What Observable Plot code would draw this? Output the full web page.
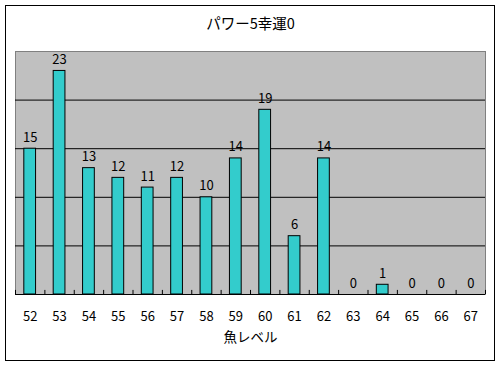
<!DOCTYPE html>
<html>
<head>
<meta charset="utf-8">
<script src="https://cdn.jsdelivr.net/npm/d3@7"></script>
<script src="https://cdn.jsdelivr.net/npm/@observablehq/plot@0.6"></script>
<style>
  html, body { margin: 0; padding: 0; background: #fff; }
  #wrap { position: relative; width: 501px; height: 365px; }
  #border { position: absolute; left: 5px; top: 5px; width: 488px; height: 354px; border: 1px solid #000; pointer-events: none; }
  #chart { position: absolute; left: 0; top: 0; }
</style>
</head>
<body>
<div id="wrap"><div id="chart"></div><div id="border"></div></div>
<script>
const title = "パワー5幸運0";
const xLabel = "魚レベル";
const levels = ["52","53","54","55","56","57","58","59","60","61","62","63","64","65","66","67"];
const counts = [15, 23, 13, 12, 11, 12, 10, 14, 19, 6, 14, 0, 1, 0, 0, 0];
const gridValues = [5, 10, 15, 20];
const yMax = 25;

const data = levels.map((l, i) => ({level: l, count: counts[i]}));
const font = "'Noto Sans CJK JP', 'Liberation Sans', sans-serif";

const W = 501, H = 365;
const mL = 15, mR = 16, mT = 51, mB = 71;
const step = (W - mL - mR) / levels.length;

const chart = Plot.plot({
  width: W,
  height: H,
  marginLeft: mL,
  marginRight: mR,
  marginTop: mT,
  marginBottom: mB,
  style: {fontFamily: font, fontSize: "13px", color: "#000", background: "transparent"},
  x: {domain: levels, paddingInner: 0.6, paddingOuter: 0.3, round: false},
  y: {domain: [0, yMax], axis: null},
  marks: [
    Plot.frame({fill: "#c0c0c0", stroke: "#808080"}),
    Plot.ruleY(gridValues, {stroke: "#000", strokeWidth: 1}),
    Plot.barY(data, {x: "level", y: "count", fill: "#33cccc", stroke: "#000", strokeWidth: 1}),
    Plot.ruleY([0], {stroke: "#000", strokeWidth: 1}),
    Plot.ruleX(levels, {x: d => d, dx: -step / 2, y1: 0, y2: 0.42, stroke: "#000"}),
    Plot.ruleX([levels[levels.length - 1]], {x: d => d, dx: step / 2, y1: 0, y2: 0.42, stroke: "#000"}),
    Plot.text(data, {x: "level", y: "count", text: d => String(d.count), lineAnchor: "bottom", dy: -7, fill: "#000", fontSize: 13}),
    Plot.axisX({tickSize: 0, tickPadding: 17, fontSize: 13, label: null}),
    Plot.text([xLabel], {frameAnchor: "bottom", lineAnchor: "middle", dy: 43, fontSize: 13.5, fill: "#000"}),
    Plot.text([title], {frameAnchor: "top", lineAnchor: "middle", dy: -27, fontSize: 14.5, fill: "#000"})
  ]
});
document.getElementById("chart").appendChild(chart);
</script>
</body>
</html>
